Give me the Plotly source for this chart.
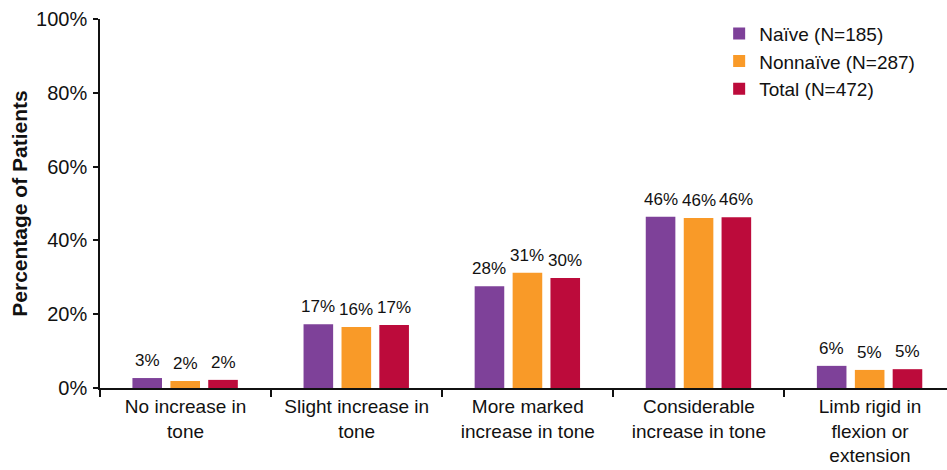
import plotly.graph_objects as go

# Muscle tone categories (x axis) and percentage of patients per group
categories = [
    "No increase in<br>tone",
    "Slight increase in<br>tone",
    "More marked<br>increase in tone",
    "Considerable<br>increase in tone",
    "Limb rigid in<br>flexion or<br>extension",
]
series_names = ["Naïve (N=185)", "Nonnaïve (N=287)", "Total (N=472)"]
naive = [2.7, 17.3, 27.6, 46.4, 6.0]
nonnaive = [1.9, 16.5, 31.2, 46.1, 4.9]
total = [2.2, 17.1, 29.8, 46.3, 5.1]
y_ticks = [0, 20, 40, 60, 80, 100]

colors = ["#7E4199", "#F99A28", "#BC0B3B"]
centers = [-0.224, -0.002, 0.219]  # bar centre offsets within a category
bar_w = 0.173
FONT = "Liberation Sans, Arial, sans-serif"

fig = go.Figure()
annotations = []
for name, vals, col, c in zip(series_names, [naive, nonnaive, total], colors, centers):
    fig.add_trace(go.Bar(
        name=name,
        x=categories,
        y=vals,
        width=bar_w,
        offset=c - bar_w / 2,
        marker=dict(color=col, line=dict(width=0)),
    ))
    for i, v in enumerate(vals):
        annotations.append(dict(
            x=i + c, y=v, xref="x", yref="y",
            text=f"{v:.0f}%", showarrow=False,
            yanchor="bottom", yshift=6,
            font=dict(family=FONT, size=17, color="#111111"),
        ))

fig.update_layout(
    width=947, height=470,
    margin=dict(l=100, r=0, t=19, b=82),
    barmode="overlay",
    plot_bgcolor="white", paper_bgcolor="white",
    font=dict(family=FONT, size=20, color="#111111"),
    showlegend=True,
    legend=dict(
        x=0.731, y=1.012, xanchor="left", yanchor="top",
        font=dict(family=FONT, size=19, color="#111111"),
        bgcolor="rgba(0,0,0,0)", itemwidth=30, tracegroupgap=0,
    ),
    annotations=annotations,
    xaxis=dict(
        type="category", categoryorder="array", categoryarray=categories,
        range=[-0.5, 4.45], automargin=False,
        tickson="boundaries", ticks="outside", ticklen=7, tickwidth=1.5,
        tickcolor="#111111", ticklabelstandoff=0,
        showline=True, linecolor="#111111", linewidth=2,
        showgrid=False, zeroline=False,
        tickfont=dict(family=FONT, size=19, color="#111111"),
    ),
    yaxis=dict(
        range=[0, 100], tickvals=y_ticks, ticktext=[f"{t}%" for t in y_ticks],
        automargin=False,
        ticks="outside", ticklen=5, tickwidth=1.5, tickcolor="#111111",
        ticklabelstandoff=2,
        showline=True, linecolor="#111111", linewidth=1.5,
        showgrid=False, zeroline=False,
        tickfont=dict(family=FONT, size=20, color="#111111"),
        title=dict(text="<b>Percentage of Patients</b>", standoff=3,
                   font=dict(family=FONT, size=21, color="#111111")),
    ),
)

fig.write_html("out.html")
